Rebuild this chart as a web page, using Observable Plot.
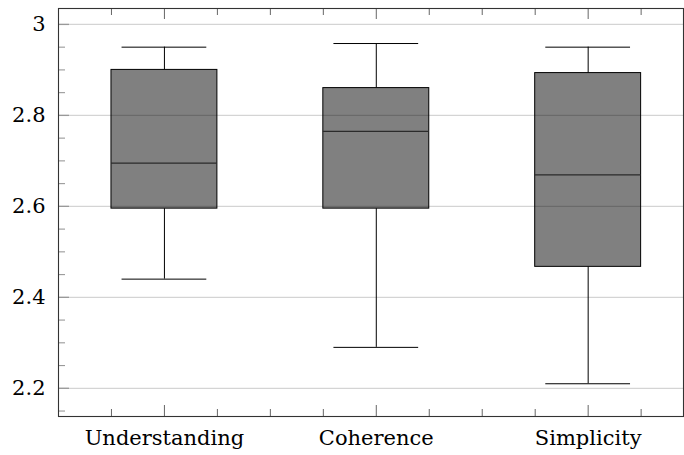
<!DOCTYPE html>
<html>
<head>
<meta charset="utf-8">
<script src="https://cdn.jsdelivr.net/npm/d3@7"></script>
<script src="https://cdn.jsdelivr.net/npm/@observablehq/plot@0.6"></script>
<style>
  html, body { margin: 0; padding: 0; background: #fff; }
</style>
</head>
<body>
<div id="chart"></div>
<script>
const categories = ["Understanding", "Coherence", "Simplicity"];
const lowerWhisker = [2.44, 2.29, 2.21];
const q1 = [2.595, 2.595, 2.467];
const median = [2.695, 2.765, 2.669];
const q3 = [2.90, 2.86, 2.893];
const upperWhisker = [2.95, 2.958, 2.95];
const yTicks = [2.2, 2.4, 2.6, 2.8, 3];
const yMinorTicks = [2.15, 2.25, 2.3, 2.35, 2.45, 2.5, 2.55, 2.65, 2.7, 2.75, 2.85, 2.9, 2.95];
const xMinorTicks = [0.75, 1.25, 1.5, 1.75, 2.25, 2.5, 2.75, 3.25];

const rows = categories.map((c, i) => ({
  c, pos: i + 1,
  lo: lowerWhisker[i], q1: q1[i], med: median[i], q3: q3[i], hi: upperWhisker[i]
}));
const xMajor = rows.map(r => r.pos);

const W = 684, H = 455;
const mL = 58, mR = 1, mT = 8, mB = 39;
const innerW = W - mL - mR, innerH = H - mT - mB;
const boxHalf = 0.25, capHalf = 0.2;
const FONT = "DejaVu Serif";

const chart = Plot.plot({
  width: W, height: H,
  marginLeft: mL, marginRight: mR, marginTop: mT, marginBottom: mB,
  style: { fontSize: "21px", color: "#000", background: "#fff" },
  x: { domain: [0.5, 3.45] },
  y: { domain: [2.138, 3.035] },
  marks: [
    Plot.ruleX(rows, { x: "pos", y1: "q3", y2: "hi", stroke: "#000", strokeWidth: 1 }),
    Plot.ruleX(rows, { x: "pos", y1: "lo", y2: "q1", stroke: "#000", strokeWidth: 1 }),
    Plot.ruleY(rows, { y: "hi", x1: d => d.pos - capHalf, x2: d => d.pos + capHalf, stroke: "#000", strokeWidth: 1 }),
    Plot.ruleY(rows, { y: "lo", x1: d => d.pos - capHalf, x2: d => d.pos + capHalf, stroke: "#000", strokeWidth: 1 }),
    Plot.rect(rows, { x1: d => d.pos - boxHalf, x2: d => d.pos + boxHalf, y1: "q1", y2: "q3", fill: "#808080", stroke: "#000", strokeWidth: 1 }),
    Plot.ruleY(rows, { y: "med", x1: d => d.pos - boxHalf, x2: d => d.pos + boxHalf, stroke: "#2a2a2a", strokeWidth: 1.2 }),
    Plot.ruleY(yTicks, { stroke: "#000", strokeOpacity: 0.17, strokeWidth: 1.3 }),
    Plot.tickY(yTicks, { y: d => d, insetRight: innerW - 11, stroke: "#999", strokeWidth: 1.3 }),
    Plot.tickY(yMinorTicks, { y: d => d, insetRight: innerW - 7, stroke: "#999", strokeWidth: 1.1 }),
    Plot.tickX(xMajor, { x: d => d, insetTop: innerH - 11, stroke: "#666", strokeWidth: 1 }),
    Plot.tickX(xMinorTicks, { x: d => d, insetTop: innerH - 7, stroke: "#666", strokeWidth: 1 }),
    Plot.tickX(xMajor, { x: d => d, insetBottom: innerH - 11, stroke: "#666", strokeWidth: 1 }),
    Plot.tickX(xMinorTicks, { x: d => d, insetBottom: innerH - 7, stroke: "#666", strokeWidth: 1 }),
    Plot.frame({ stroke: "#333", strokeWidth: 1.1 }),
    Plot.axisY({ ticks: yTicks, tickSize: 0, tickPadding: 13, tickFormat: d => String(d), label: null, fontSize: 21, fontFamily: FONT }),
    Plot.axisX({ ticks: xMajor, tickSize: 0, tickPadding: 14, tickFormat: d => categories[d - 1], label: null, fontSize: 21, fontFamily: FONT })
  ]
});
document.getElementById("chart").appendChild(chart);
</script>
</body>
</html>
